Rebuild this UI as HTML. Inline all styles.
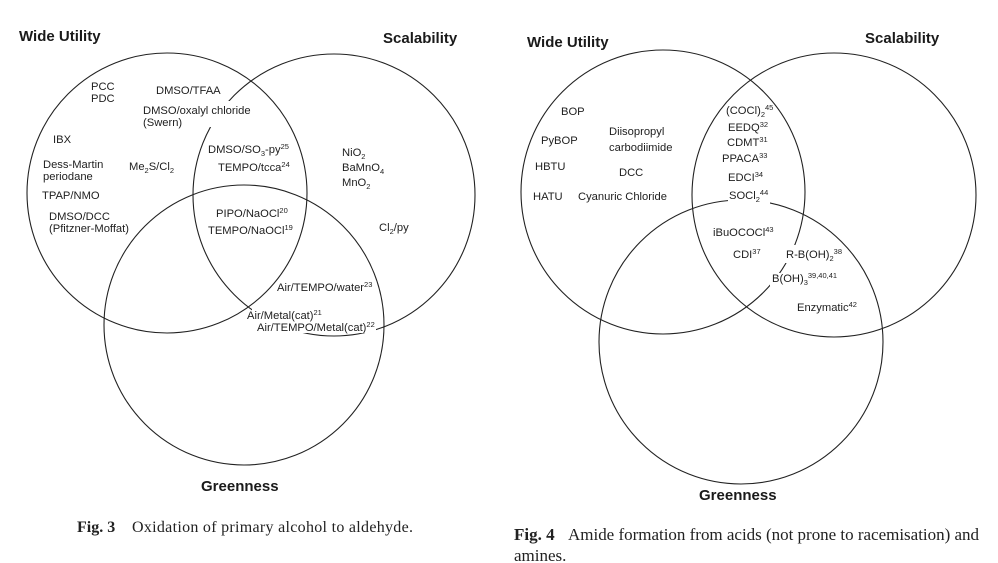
<!DOCTYPE html>
<html>
<head>
<meta charset="utf-8">
<style>
  html, body { margin: 0; padding: 0; background: #ffffff; }
  svg { display: block; }
  .t { font-family: "Liberation Sans", Arial, sans-serif; font-size: 11.2px; fill: #1e1e1e; }
  .h { font-family: "Liberation Sans", Arial, sans-serif; font-size: 15px; font-weight: bold; fill: #1a1a1a; }
  .c { font-family: "Liberation Serif", "Times New Roman", serif; fill: #222; }
  circle { fill: none; stroke: #222; stroke-width: 1.1; }
</style>
</head>
<body>
<svg width="998" height="563" viewBox="0 0 998 563" xmlns="http://www.w3.org/2000/svg">
  <rect x="0" y="0" width="998" height="563" fill="#fff"/>

  <!-- ===== Fig. 3 (left) ===== -->
  <circle cx="167" cy="193" r="140"/>
  <circle cx="334" cy="195" r="141"/>
  <circle cx="244" cy="325" r="140"/>

  <!-- gaps where text interrupts lines -->
  <rect x="208" y="101" width="28" height="26" fill="#fff"/>
  <rect x="252" y="309" width="68" height="12" fill="#fff"/>
  <rect x="256" y="321" width="58" height="12" fill="#fff"/>
  <rect x="352" y="321" width="24" height="12" fill="#fff"/>

  <text class="h" x="19" y="41">Wide Utility</text>
  <text class="h" x="383" y="43">Scalability</text>
  <text class="h" x="201" y="491">Greenness</text>

  <text class="t" x="91" y="90">PCC</text>
  <text class="t" x="91" y="102">PDC</text>
  <text class="t" x="156" y="94">DMSO/TFAA</text>
  <text class="t" x="143" y="114">DMSO/oxalyl chloride</text>
  <text class="t" x="143" y="126">(Swern)</text>
  <text class="t" x="53" y="143">IBX</text>
  <text class="t" x="43" y="168">Dess-Martin</text>
  <text class="t" x="43" y="180">periodane</text>
  <text class="t" x="129" y="170">Me<tspan font-size="7.5" dy="3">2</tspan><tspan dy="-3">S/Cl</tspan><tspan font-size="7.5" dy="3">2</tspan></text>
  <text class="t" x="42" y="199">TPAP/NMO</text>
  <text class="t" x="49" y="220">DMSO/DCC</text>
  <text class="t" x="49" y="232">(Pfitzner-Moffat)</text>

  <text class="t" x="208" y="153">DMSO/SO<tspan font-size="7.5" dy="3">3</tspan><tspan dy="-3">-py</tspan><tspan font-size="7.5" dy="-4">25</tspan></text>
  <text class="t" x="218" y="171">TEMPO/tcca<tspan font-size="7.5" dy="-4">24</tspan></text>
  <text class="t" x="342" y="156">NiO<tspan font-size="7.5" dy="3">2</tspan></text>
  <text class="t" x="342" y="171">BaMnO<tspan font-size="7.5" dy="3">4</tspan></text>
  <text class="t" x="342" y="186">MnO<tspan font-size="7.5" dy="3">2</tspan></text>
  <text class="t" x="216" y="217">PIPO/NaOCl<tspan font-size="7.5" dy="-4">20</tspan></text>
  <text class="t" x="208" y="234">TEMPO/NaOCl<tspan font-size="7.5" dy="-4">19</tspan></text>
  <text class="t" x="379" y="231">Cl<tspan font-size="7.5" dy="3">2</tspan><tspan dy="-3">/py</tspan></text>
  <text class="t" x="277" y="291">Air/TEMPO/water<tspan font-size="7.5" dy="-4">23</tspan></text>
  <text class="t" x="247" y="319">Air/Metal(cat)<tspan font-size="7.5" dy="-4">21</tspan></text>
  <text class="t" x="257" y="331">Air/TEMPO/Metal(cat)<tspan font-size="7.5" dy="-4">22</tspan></text>

  <text class="c" y="532" font-size="16"><tspan x="77" font-weight="bold">Fig. 3</tspan><tspan x="132" textLength="281" lengthAdjust="spacing">Oxidation of primary alcohol to aldehyde.</tspan></text>

  <!-- ===== Fig. 4 (right) ===== -->
  <circle cx="663" cy="192" r="142"/>
  <circle cx="834" cy="195" r="142"/>
  <circle cx="741" cy="342" r="142"/>

  <rect x="728" y="189" width="42" height="16" fill="#fff"/>
  <rect x="783" y="245" width="17" height="18" fill="#fff"/>
  <rect x="770" y="273" width="20" height="13" fill="#fff"/>

  <text class="h" x="527" y="47">Wide Utility</text>
  <text class="h" x="865" y="43">Scalability</text>
  <text class="h" x="699" y="500">Greenness</text>

  <text class="t" x="561" y="115">BOP</text>
  <text class="t" x="541" y="144">PyBOP</text>
  <text class="t" x="609" y="135">Diisopropyl</text>
  <text class="t" x="609" y="151">carbodiimide</text>
  <text class="t" x="535" y="170">HBTU</text>
  <text class="t" x="619" y="176">DCC</text>
  <text class="t" x="533" y="200">HATU</text>
  <text class="t" x="578" y="200">Cyanuric Chloride</text>

  <text class="t" x="726" y="114">(COCl)<tspan font-size="7.5" dy="3">2</tspan><tspan font-size="7.5" dy="-7">45</tspan></text>
  <text class="t" x="728" y="131">EEDQ<tspan font-size="7.5" dy="-4">32</tspan></text>
  <text class="t" x="727" y="146">CDMT<tspan font-size="7.5" dy="-4">31</tspan></text>
  <text class="t" x="722" y="162">PPACA<tspan font-size="7.5" dy="-4">33</tspan></text>
  <text class="t" x="728" y="181">EDCI<tspan font-size="7.5" dy="-4">34</tspan></text>
  <text class="t" x="729" y="199">SOCl<tspan font-size="7.5" dy="3">2</tspan><tspan font-size="7.5" dy="-7">44</tspan></text>
  <text class="t" x="713" y="236">iBuOCOCl<tspan font-size="7.5" dy="-4">43</tspan></text>
  <text class="t" x="733" y="258">CDI<tspan font-size="7.5" dy="-4">37</tspan></text>
  <text class="t" x="786" y="258">R-B(OH)<tspan font-size="7.5" dy="3">2</tspan><tspan font-size="7.5" dy="-7">38</tspan></text>
  <text class="t" x="772" y="282">B(OH)<tspan font-size="7.5" dy="3">3</tspan><tspan font-size="7.5" dy="-7">39,40,41</tspan></text>
  <text class="t" x="797" y="311">Enzymatic<tspan font-size="7.5" dy="-4">42</tspan></text>

  <text class="c" y="540" font-size="17"><tspan x="514" font-weight="bold">Fig. 4</tspan><tspan x="568" textLength="411" lengthAdjust="spacing">Amide formation from acids (not prone to racemisation) and</tspan></text>
  <text class="c" x="514" y="561" font-size="17">amines.</text>
</svg>
</body>
</html>
